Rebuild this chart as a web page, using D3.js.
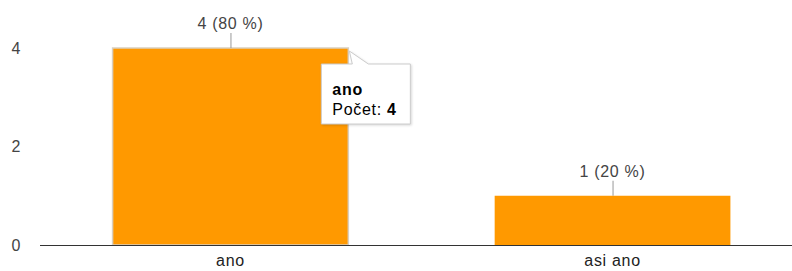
<!DOCTYPE html>
<html>
<head>
<meta charset="utf-8">
<script src="https://cdn.jsdelivr.net/npm/d3@7"></script>
<style>
  body { margin: 0; background: #fff; }
  text { font-family: Arial, "Liberation Sans", sans-serif; font-size: 16px; letter-spacing: 0.7px; }
</style>
</head>
<body>
<div id="chart"></div>
<script>
var categories = ["ano", "asi ano"];
var counts = [4, 1];
var percents = ["80 %", "20 %"];
var yTicks = [0, 2, 4];
var tooltipTitle = "ano";
var tooltipLabel = "Počet:";

var width = 792, height = 271;
var margin = {top: 48, bottom: 26, left: 40};

var svg = d3.select("#chart").append("svg")
    .attr("width", width)
    .attr("height", height);

var x = d3.scaleBand()
    .domain(categories)
    .range([margin.left, 803])
    .paddingInner(0.383)
    .paddingOuter(0.19);

var y = d3.scaleLinear()
    .domain([0, 4])
    .range([height - margin.bottom, margin.top]);

// y tick labels
svg.append("g").selectAll("text")
    .data(yTicks)
    .join("text")
    .attr("x", 21)
    .attr("y", d => y(d))
    .attr("dy", "0.35em")
    .attr("text-anchor", "end")
    .attr("fill", "#444")
    .text(d => d);

// bars
svg.append("g").selectAll("rect")
    .data(counts)
    .join("rect")
    .attr("x", (d, i) => x(categories[i]))
    .attr("y", d => y(d))
    .attr("width", x.bandwidth())
    .attr("height", d => y(0) - y(d))
    .attr("fill", "#ff9900")
    .attr("stroke", (d, i) => i == 0 ? "#d9cfc0" : "none")
    .attr("stroke-width", 1.5);

// baseline
svg.append("line")
    .attr("x1", margin.left)
    .attr("x2", width)
    .attr("y1", y(0) + 0.5)
    .attr("y2", y(0) + 0.5)
    .attr("stroke", "#333")
    .attr("stroke-width", 1);

// x labels
svg.append("g").selectAll("text")
    .data(categories)
    .join("text")
    .attr("x", d => x(d) + x.bandwidth() / 2)
    .attr("y", y(0) + 21)
    .attr("text-anchor", "middle")
    .attr("fill", "#222")
    .text(d => d);

// annotations
var ann = svg.append("g").selectAll("g")
    .data(counts)
    .join("g");

ann.append("line")
    .attr("x1", (d, i) => x(categories[i]) + x.bandwidth() / 2 + 0.5)
    .attr("x2", (d, i) => x(categories[i]) + x.bandwidth() / 2 + 0.5)
    .attr("y1", d => y(d))
    .attr("y2", d => y(d) - 15)
    .attr("stroke", "#999");

ann.append("text")
    .attr("x", (d, i) => x(categories[i]) + x.bandwidth() / 2)
    .attr("y", d => y(d) - 19)
    .attr("text-anchor", "middle")
    .attr("fill", "#444")
    .text((d, i) => d + " (" + percents[i] + ")");

// tooltip
var cornerX = x(categories[0]) + x.bandwidth();
var cornerY = y(counts[0]);
var tip = svg.append("g");
var bx = cornerX - 27, by = cornerY + 16, bw = 89, bh = 60;

tip.append("path")
    .attr("d", `M${bx},${by} L${cornerX + 4},${by} L${cornerX + 1},${cornerY + 3} L${cornerX + 20},${by} L${bx + bw},${by} L${bx + bw},${by + bh} L${bx},${by + bh} Z`)
    .attr("fill", "#fff")
    .attr("stroke", "#ccc")
    .attr("stroke-width", 1)
    .style("filter", "drop-shadow(1px 1px 1px rgba(0,0,0,0.15))");

tip.append("text")
    .attr("x", bx + 11)
    .attr("y", by + 31)
    .attr("font-weight", "bold")
    .attr("fill", "#000")
    .text(tooltipTitle);

var t2 = tip.append("text")
    .attr("x", bx + 11)
    .attr("y", by + 51)
    .attr("fill", "#000");
t2.append("tspan").text(tooltipLabel + " ");
t2.append("tspan").attr("font-weight", "bold").text(counts[0]);
</script>
</body>
</html>
